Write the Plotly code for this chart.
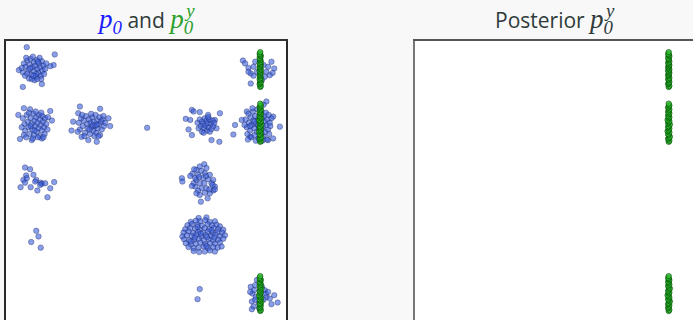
import plotly.graph_objects as go

# ---------------- data (grid units; offsets in hundredths, dy positive = up) ----------------
blue_a_center = (-2.0, 2.0)
blue_a = [(-13, 39), (37, 26), (-27, -2), (-20, -32), (14, -27), (35, 7), (29, 5),
          (-18, 10), (-15, 4), (-12, 15), (-10, -2), (-8, 8), (-6, 18), (-5, -10), (-3, 3),
          (0, 12), (0, -4), (2, 6), (3, -14), (5, 16), (6, 0), (8, -7), (9, 10), (11, 3),
          (12, -12), (14, 14), (15, -3), (17, 6), (18, -9), (-20, -6), (-16, -12), (-12, -8),
          (-9, -17), (-4, -18), (1, -20), (6, -18), (10, 20), (-2, 22), (-14, 20), (20, 0),
          (22, 10), (-22, 2), (4, -9), (-7, 1), (13, -18), (-1, -12), (7, 13)]

blue_b_center = (-2.0, 1.0)
blue_b = [(-28, 18), (-25, -25), (29, 25), (-18, 30), (-7, 28), (32, 8), (14, -24), (-4, -27),
          (-20, 12), (-17, 2), (-16, -10), (-13, 18), (-11, 6), (-10, -4), (-8, -16), (-6, 12),
          (-4, 2), (-3, -8), (-1, 20), (0, -18), (1, 8), (2, -2), (4, 14), (5, -12), (6, 4),
          (8, -6), (9, 18), (10, -20), (11, 10), (12, 0), (14, -10), (15, 16), (16, 6), (18, -4),
          (19, -16), (20, 12), (22, 2), (24, -8), (-18, -18), (-14, -22), (-2, -24), (7, -22),
          (-9, 22), (3, 24), (-22, -4), (13, 22), (25, 14), (-6, -2), (17, -22), (1, -10)]

blue_c_center = (-1.0, 1.0)
blue_c = [(-18, 33), (18, 29), (-33, -10), (36, -2), (12, -30), (-3, -27), (-15, -21), (-30, 6),
          (33, 12), (-21, 21),
          (-20, 4), (-18, -8), (-16, 12), (-13, -2), (-11, 8), (-9, -14), (-7, 16), (-5, 2),
          (-4, -6), (-2, 10), (0, -16), (1, 4), (3, -4), (4, 14), (6, -10), (7, 6), (9, -2),
          (10, 18), (11, -14), (13, 8), (14, -6), (16, 2), (17, 14), (18, -18), (20, 6), (21, -8),
          (23, 10), (25, -2), (27, 4), (-10, -20), (2, 20), (8, -20), (-14, 18), (15, -20),
          (24, 16), (-22, -12), (5, 0), (12, 0), (-1, -8)]

blue_single_center = (0.0, 1.0)
blue_single = [(2, -5)]

blue_d_center = (1.0, 1.0)
blue_d = [(-29, 11), (-18, 27), (-4, 23), (11, 18), (32, 21), (-24, -8), (-18, -18), (17, -27),
          (31, -30), (26, -6), (-15, 24), (-21, 9), (23, 9),
          (-8, 4), (-6, -6), (-4, 10), (-2, -2), (0, 6), (0, -12), (2, 2), (4, -6), (5, 12),
          (6, -1), (8, 8), (9, -10), (10, 3), (12, -4), (13, 10), (14, -12), (16, 2), (17, -7),
          (19, 8), (20, -2), (22, 4), (3, -14), (11, 14)]

blue_e_center = (2.0, 1.0)
blue_e = [(-44, -17), (-41, 0), (39, -3), (15, 42), (27, 15), (-29, 9), (27, -24), (18, -27),
          (-14, -21), (-20, 24), (10, 36),
          (-22, 10), (-20, -4), (-19, -16), (-17, 20), (-16, 4), (-14, -10), (-13, 14), (-12, -22),
          (-11, 0), (-9, 24), (-8, 8), (-7, -6), (-6, -18), (-5, 16), (-3, 2), (-2, -12), (-1, 28),
          (0, 10), (1, -24), (2, -4), (3, 18), (4, 4), (5, -14), (6, 24), (7, -8), (8, 12), (9, -2),
          (10, -20), (11, 16), (12, 6), (13, -12), (14, 22), (15, 0), (16, -26), (17, 10),
          (18, -8), (19, 18), (20, -16), (21, 4), (22, -2), (-18, -26), (-4, -28), (8, -28),
          (-10, 30), (4, 30), (-24, 0), (24, 12), (-14, -2), (0, 0), (-6, 6), (6, -16)]

blue_f_center = (2.0, 2.0)
blue_f = [(-27, 15), (-23, 10), (-17, 2), (-13, -8), (-13, -26), (-8, -12), (-2, -5), (10, 7),
          (18, 4), (24, 13), (29, 1), (26, -7), (21, -11), (-5, 13), (12, -14), (4, -2), (-8, 4),
          (15, -5), (-17, -5), (7, -20)]

blue_g_center = (-2.0, 0.0)
blue_g = [(-16, 24), (-7, 21), (-1, 11), (-14, 10), (-19, 2), (-16, -3), (4, 2), (2, -1), (12, -3),
          (14, -5), (20, -4), (36, -2), (-24, -11), (-6, -11), (6, -17), (29, -13), (24, -29),
          (11, -7), (-13, 5)]

blue_h_center = (1.0, 0.0)
blue_h = [(-36, 5), (-35, -1), (-2, -37), (10, -31),
          (4, 30), (-4, 26), (8, 23), (-10, 20), (-1, 18), (-17, 13), (-7, 11), (5, 14), (14, 11),
          (-21, 9), (20, 2), (17, -4), (23, -10), (20, -17), (14, -22), (5, -21), (-4, -25),
          (-12, -10), (-15, -4), (-10, 2), (-4, -4), (-1, -13), (-7, -17), (2, 5), (11, 3),
          (8, -13), (13, -15), (-12, 5), (-5, 7), (-18, -9), (4, -4), (-10, -22), (19, -7),
          (-14, 21), (7, 9), (23, -15)]

blue_i_center = (1.02, -0.98)
blue_i = [(-8, 32), (6, 33),
          (-22, 25), (-13, 27), (-5, 26), (4, 28), (12, 25), (21, 26),
          (-28, 19), (-20, 21), (-10, 20), (-2, 18), (8, 21), (16, 19), (24, 20), (30, 17),
          (-32, 12), (-23, 14), (-14, 13), (-6, 11), (3, 14), (11, 12), (19, 14), (27, 12), (36, 11),
          (-35, 6), (-26, 8), (-18, 5), (-9, 7), (0, 6), (9, 8), (17, 5), (26, 7), (34, 6),
          (-37, -1), (-29, 1), (-20, 0), (-12, 2), (-3, -1), (5, 1), (14, 0), (22, 2), (30, -1), (39, 1),
          (-34, -6), (-25, -8), (-16, -7), (-8, -5), (1, -8), (10, -6), (18, -8), (27, -7), (36, -5),
          (-31, -13), (-22, -15), (-13, -14), (-5, -12), (4, -15), (12, -13), (21, -14), (30, -12),
          (-26, -20), (-17, -22), (-8, -21), (1, -19), (9, -22), (18, -20), (26, -21), (33, -19),
          (-17, -27), (-7, -29), (3, -28), (12, -26), (21, -28),
          (-4, 4), (7, -2), (-15, -3), (15, 10), (-10, 16), (6, -18), (20, -3), (-22, -10)]

blue_j_center = (-2.0, -1.0)
blue_j = [(4, 11), (8, 1), (-5, -9), (12, -19)]

blue_k_center = (1.0, -2.0)
blue_k = [(-4, 7), (-8, -11)]

blue_l_center = (2.0, -2.0)
blue_l = [(-13, 11), (-10, -1), (-11, -15), (-8, -24), (-2, 23), (-5, 14), (4, 2), (12, 5),
          (15, -7), (21, -10), (29, -4), (35, -17), (24, -20), (10, -12), (2, -27), (-11, -29),
          (-7, 5), (-4, -7), (-14, 2), (7, 11), (14, -1), (1, -18), (-5, -12), (18, 2)]

green_top_center = (2.04, 1.99)
green_top = [(0, -31), (1, -29), (-1, -26), (0, -24), (1, -22), (0, -19), (-1, -17), (1, -15),
             (0, -12), (-1, -10), (0, -8), (1, -6), (0, -4), (-1, -2), (1, 0), (0, 2), (-1, 4),
             (0, 6), (1, 8), (0, 10), (-1, 12), (1, 14), (0, 17), (0, 19), (-1, 21), (1, 24),
             (0, 26), (-1, 28), (0, 31)]

green_mid_center = (2.04, 1.04)
green_mid = [(0, -34), (1, -32), (-1, -29), (0, -27), (2, -25), (0, -22), (-1, -20), (1, -17),
             (-2, -15), (0, -13), (1, -10), (-1, -8), (0, -6), (2, -3), (-1, -1), (0, 1), (1, 3),
             (-2, 5), (0, 8), (1, 10), (-1, 12), (0, 15), (1, 17), (-1, 19), (0, 22), (1, 24),
             (-1, 27), (0, 29), (1, 31), (0, 34)]

green_bot_center = (2.04, -2.01)
green_bot = [(0, -31), (1, -29), (-1, -26), (0, -24), (1, -21), (-1, -19), (0, -17), (2, -14),
             (0, -12), (-1, -10), (1, -7), (0, -5), (-2, -3), (0, 0), (1, 2), (-1, 4), (0, 7),
             (2, 9), (0, 11), (-1, 14), (1, 16), (0, 19), (-1, 21), (1, 24), (0, 26), (-1, 28),
             (0, 31)]

blue_groups = [(blue_a_center, blue_a), (blue_b_center, blue_b), (blue_c_center, blue_c),
               (blue_single_center, blue_single), (blue_d_center, blue_d), (blue_e_center, blue_e),
               (blue_f_center, blue_f), (blue_g_center, blue_g), (blue_h_center, blue_h),
               (blue_i_center, blue_i), (blue_j_center, blue_j), (blue_k_center, blue_k),
               (blue_l_center, blue_l)]
green_groups = [(green_top_center, green_top), (green_mid_center, green_mid),
                (green_bot_center, green_bot)]


def expand(groups):
    xs, ys = [], []
    for (cx, cy), offs in groups:
        for dx, dy in offs:
            xs.append(cx + dx / 100.0)
            ys.append(cy + dy / 100.0)
    return xs, ys


bx, by = expand(blue_groups)
gx, gy = expand(green_groups)

# ---------------- figure ----------------
W, H = 693, 320
PX = 56.0  # pixels per unit
left_x0, left_x1 = 6.0, 286.0
right_x0 = 414.5
top_y = 41.0

blue_marker = dict(size=5.5, color="rgba(60,95,220,0.6)",
                   line=dict(width=0.6, color="rgba(20,30,90,0.6)"))
green_marker = dict(size=5.5, color="rgba(45,185,45,0.8)",
                    line=dict(width=0.7, color="rgba(0,70,0,0.85)"))

fig = go.Figure()
fig.add_trace(go.Scatter(x=bx, y=by, mode="markers", marker=blue_marker,
                         xaxis="x", yaxis="y", hoverinfo="skip"))
fig.add_trace(go.Scatter(x=gx, y=gy, mode="markers", marker=green_marker,
                         xaxis="x", yaxis="y", hoverinfo="skip"))
fig.add_trace(go.Scatter(x=gx, y=gy, mode="markers", marker=green_marker,
                         xaxis="x2", yaxis="y2", hoverinfo="skip"))

y_range = [2.5 - (H - top_y) / PX, 2.5]
common = dict(showgrid=False, zeroline=False, ticks="", showticklabels=False)

fig.update_layout(
    width=W, height=H,
    margin=dict(l=0, r=0, t=0, b=0),
    paper_bgcolor="#f8f8f8",
    plot_bgcolor="#ffffff",
    showlegend=False,
    xaxis=dict(domain=[left_x0 / W, left_x1 / W], range=[-2.5, 2.5], side="top",
               showline=True, linecolor="#333333", linewidth=1.5, mirror=False, **common),
    yaxis=dict(domain=[0, (H - top_y) / H], range=y_range, showline=True,
               linecolor="#2a2a2a", linewidth=1.8, mirror=True, **common),
    xaxis2=dict(domain=[right_x0 / W, 1.0], range=[-2.5, -2.5 + (W - right_x0) / PX],
                side="top", anchor="y2", showline=True, linecolor="#555555",
                linewidth=1.5, mirror=False, **common),
    yaxis2=dict(domain=[0, (H - top_y) / H], range=y_range, anchor="x2", showline=True,
                linecolor="#777777", linewidth=2, mirror=False, **common),
)

serif = "font-family:'Liberation Serif';font-style:italic;font-size:27px"
stack = "letter-spacing:-7px"
left_title = (f"<span style=\"color:#1a1aff;{serif}\">p<sub>0</sub></span> and "
              f"<span style=\"color:#2ca02c;{serif}\">p<sub><span style=\"{stack}\">0</span></sub>"
              f"<sup>y</sup></span>")
right_title = (f"Posterior <span style=\"{serif}\">p<sub><span style=\"{stack}\">0</span></sub>"
               f"<sup>y</sup></span>")

title_font = dict(family="Open Sans", size=21, color="#2f3b3b")
fig.add_annotation(text=left_title, x=(left_x0 + left_x1) / 2 / W, y=1 - 19 / H,
                   xref="paper", yref="paper", showarrow=False, xanchor="center",
                   yanchor="middle", font=title_font)
fig.add_annotation(text=right_title, x=(right_x0 + 140) / W, y=1 - 19 / H,
                   xref="paper", yref="paper", showarrow=False, xanchor="center",
                   yanchor="middle", font=title_font)

fig.write_html(
    "out.html",
    config={"displayModeBar": False},
    post_script="document.body.style.margin='0';document.body.style.overflow='hidden';"
                "document.documentElement.style.overflow='hidden';",
)
